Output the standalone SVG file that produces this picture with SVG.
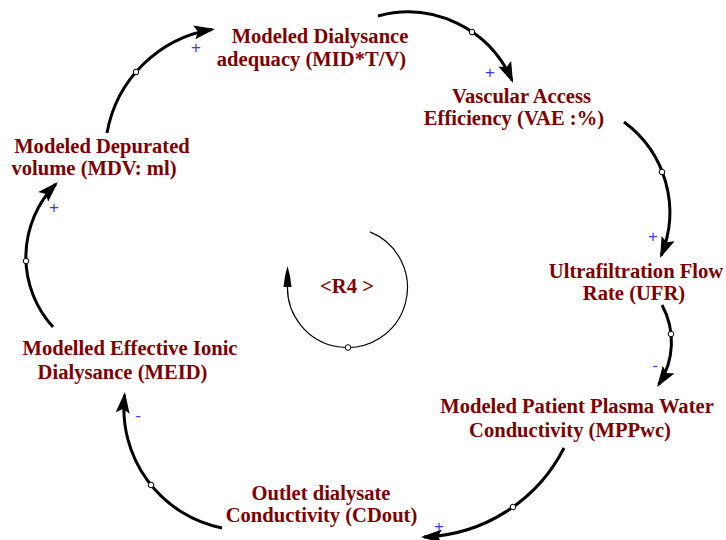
<svg xmlns="http://www.w3.org/2000/svg" width="726" height="540" viewBox="0 0 726 540">
<style>
.lbl{font-family:"Liberation Serif","Times New Roman",serif;font-weight:bold;font-size:20.6px;fill:#800000;text-anchor:middle}
.link{fill:none;stroke:#000;stroke-width:3;marker-end:url(#ah)}
.dot{fill:#fff;stroke:#000;stroke-width:1}
.pol{font-family:"Liberation Sans",Arial,sans-serif;font-size:17px;fill:#3a3aff;text-anchor:middle}
.loop{fill:none;stroke:#000;stroke-width:1.2}
</style>
<defs>
<marker id="ah" markerUnits="userSpaceOnUse" viewBox="-22 -9 26 18" markerWidth="26" markerHeight="18" refX="0" refY="0" orient="auto">
<path d="M3,0 L-18,-7 L-14,0 L-18,7 Z" fill="#000"/>
</marker>
</defs>
<rect width="726" height="540" fill="#fff"/>

<g id="connectors">
<path class="link" d="M107,133 A127.5,127.5 0 0 1 212,29.4"/>
<path class="link" d="M378,16 A113.6,113.6 0 0 1 511.9,80.2"/>
<path class="link" d="M624,122 A112,112 0 0 1 661.2,255.3"/>
<path class="link" d="M662,305 A77.4,77.4 0 0 1 658.7,384.6"/>
<path class="link" d="M564,448 A163.1,163.1 0 0 1 424,537"/>
<path class="link" d="M222,528 A122.1,122.1 0 0 1 124.6,395"/>
<path class="link" d="M53,327 A103.8,103.8 0 0 1 55.8,184.1"/>
<circle class="dot" cx="136" cy="72" r="2.8"/>
<circle class="dot" cx="472" cy="32" r="2.8"/>
<circle class="dot" cx="662" cy="172" r="2.8"/>
<circle class="dot" cx="671" cy="334" r="2.8"/>
<circle class="dot" cx="513" cy="507" r="2.8"/>
<circle class="dot" cx="151" cy="485" r="2.8"/>
<circle class="dot" cx="26" cy="261" r="2.8"/>
</g>

<g id="polarities">
<text class="pol" x="196" y="53">+</text>
<text class="pol" x="490" y="78">+</text>
<text class="pol" x="653" y="242">+</text>
<text class="pol" x="655" y="371">-</text>
<text class="pol" x="439" y="532">+</text>
<text class="pol" x="138" y="421">-</text>
<text class="pol" x="54" y="213">+</text>
</g>

<g id="loop-R4">
<path class="loop" d="M370,231.9 A60,60 0 1 1 287.5,285"/>
<path d="M287.5,266 L285,276 L283.5,287 L291.5,287 L290,276 Z" fill="#000"/>
<circle class="dot" cx="348" cy="347.5" r="2.8"/>
<text class="lbl" x="347" y="293">&lt;R4 &gt;</text>
</g>

<g id="node-MIDTV">
<text class="lbl" x="320" y="43">Modeled Dialysance</text>
<text class="lbl" x="311.5" y="66">adequacy (MID*T/V)</text>
</g>
<g id="node-VAE">
<text class="lbl" x="521.5" y="103">Vascular Access</text>
<text class="lbl" x="514" y="125">Efficiency (VAE :%)</text>
</g>
<g id="node-UFR">
<text class="lbl" x="636" y="278">Ultrafiltration Flow</text>
<text class="lbl" x="634" y="300">Rate (UFR)</text>
</g>
<g id="node-MPPwc">
<text class="lbl" x="577" y="413">Modeled Patient Plasma Water</text>
<text class="lbl" x="570" y="437">Conductivity (MPPwc)</text>
</g>
<g id="node-CDout">
<text class="lbl" x="321" y="500">Outlet dialysate</text>
<text class="lbl" x="321.5" y="522">Conductivity (CDout)</text>
</g>
<g id="node-MEID">
<text class="lbl" x="130" y="355">Modelled Effective Ionic</text>
<text class="lbl" x="122.5" y="379">Dialysance (MEID)</text>
</g>
<g id="node-MDV">
<text class="lbl" x="102" y="153">Modeled Depurated</text>
<text class="lbl" x="94" y="175">volume (MDV: ml)</text>
</g>
</svg>
